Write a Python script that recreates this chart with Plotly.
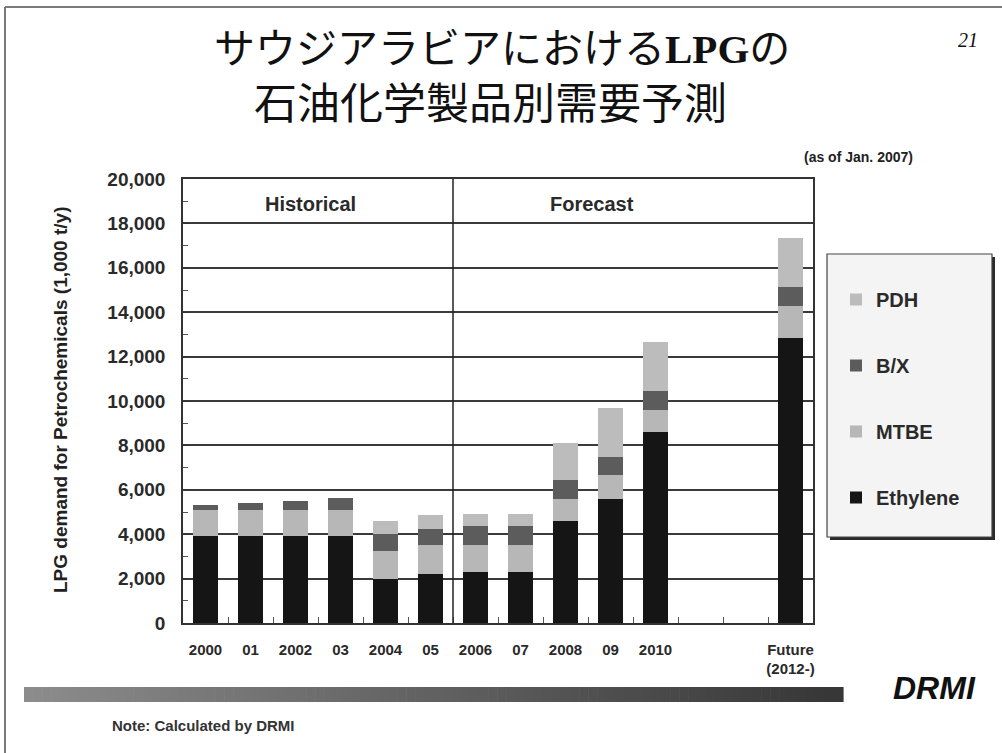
import plotly.graph_objects as go

# ---------------- data ----------------
categories = ["2000", "01", "2002", "03", "2004", "05", "2006", "07", "2008", "09", "2010", "gap1", "gap2", "Future"]
tick_labels = ["2000", "01", "2002", "03", "2004", "05", "2006", "07", "2008", "09", "2010", "", "", "Future<br>(2012-)"]
ethylene = [3900, 3900, 3900, 3900, 2000, 2200, 2300, 2300, 4600, 5600, 8600, None, None, 12850]
mtbe = [1200, 1200, 1200, 1200, 1250, 1300, 1200, 1200, 1000, 1050, 1000, None, None, 1420]
bx = [230, 300, 400, 550, 750, 750, 850, 850, 850, 820, 850, None, None, 850]
pdh = [0, 0, 0, 0, 600, 600, 570, 570, 1650, 2200, 2200, None, None, 2240]
series_names = ["Ethylene", "MTBE", "B/X", "PDH"]
series_colors = ["#151515", "#b7b7b7", "#5c5c5c", "#bcbcbc"]
legend_ranks = [4, 3, 2, 1]
y_ticks = [0, 2000, 4000, 6000, 8000, 10000, 12000, 14000, 16000, 18000, 20000]

# ---------------- layout helpers ----------------
W, H = 1002, 753
PL, PR, PT, PB = 183, 813, 179, 623  # plot area in pixels


def px(x):
    return (x - PL) / (PR - PL)


def py(y):
    return (PB - y) / (PB - PT)


FONT = "Liberation Sans, Arial, sans-serif"

fig = go.Figure()
for name, vals, col, rk in zip(series_names, [ethylene, mtbe, bx, pdh], series_colors, legend_ranks):
    fig.add_trace(go.Bar(
        x=categories, y=vals, name=name, legendgroup=name, legendrank=rk,
        marker=dict(color=col, line=dict(width=0)),
    ))

shapes = []
# slide frame (top and left lines)
shapes.append(dict(type="line", xref="paper", yref="paper", x0=px(5), x1=px(1010), y0=py(7), y1=py(7),
                   line=dict(color="#7a7a7a", width=2)))
shapes.append(dict(type="line", xref="paper", yref="paper", x0=px(5), x1=px(5), y0=py(7), y1=py(760),
                   line=dict(color="#7a7a7a", width=2)))
# divider Historical / Forecast
shapes.append(dict(type="line", xref="x", yref="y", x0=5.5, x1=5.5, y0=0, y1=20000,
                   line=dict(color="#222", width=1.5)))
# legend box shadow + box
shapes.append(dict(type="rect", xref="paper", yref="paper", x0=px(830), x1=px(995), y0=py(257), y1=py(540),
                   fillcolor="#2a2a2a", line=dict(width=0)))
shapes.append(dict(type="rect", xref="paper", yref="paper", x0=px(827), x1=px(992), y0=py(254), y1=py(537),
                   fillcolor="#f4f4f4", line=dict(color="#444", width=1.2)))
# gradient bar at bottom
N = 90
x_start, x_end = 24, 843
for i in range(N):
    t = i / (N - 1)
    c = int(140 - t * (140 - 55))
    x0 = x_start + (x_end - x_start) * i / N
    x1 = x_start + (x_end - x_start) * (i + 1) / N + 0.6
    shapes.append(dict(type="rect", xref="paper", yref="paper", x0=px(x0), x1=px(x1), y0=py(687), y1=py(702),
                       fillcolor=f"rgb({c},{c},{c})", line=dict(width=0)))

annotations = []
title_font = "Noto Sans CJK JP"
annotations.append(dict(
    xref="paper", yref="paper", x=px(502), y=py(45), xanchor="center", yanchor="middle", showarrow=False,
    text="サウジアラビアにおける<span style=\"font-family:'Liberation Serif', 'Times New Roman', serif\"><b>LPG</b></span>の",
    font=dict(family=title_font, size=41, color="#111")))
annotations.append(dict(
    xref="paper", yref="paper", x=px(490), y=py(100), xanchor="center", yanchor="middle", showarrow=False,
    text="石油化学製品別需要予測", font=dict(family=title_font, size=43, color="#111")))
annotations.append(dict(
    xref="paper", yref="paper", x=px(968), y=py(40), xanchor="center", yanchor="middle", showarrow=False,
    text="<i>21</i>", font=dict(family="Liberation Serif, Times New Roman, serif", size=20, color="#111")))
annotations.append(dict(
    xref="paper", yref="paper", x=px(858), y=py(157), xanchor="center", yanchor="middle", showarrow=False,
    text="<b>(as of Jan. 2007)</b>", font=dict(family=FONT, size=14, color="#222")))
annotations.append(dict(
    xref="paper", yref="paper", x=px(310), y=py(204), xanchor="center", yanchor="middle", showarrow=False,
    text="<b>Historical</b>", font=dict(family=FONT, size=20, color="#2a2a2a")))
annotations.append(dict(
    xref="paper", yref="paper", x=px(592), y=py(204), xanchor="center", yanchor="middle", showarrow=False,
    text="<b>Forecast</b>", font=dict(family=FONT, size=20, color="#2a2a2a")))
annotations.append(dict(
    xref="paper", yref="paper", x=px(60), y=py(400), xanchor="center", yanchor="middle", showarrow=False,
    textangle=-90, text="<b>LPG demand for Petrochemicals (1,000 t/y)</b>",
    font=dict(family=FONT, size=19, color="#222")))
annotations.append(dict(
    xref="paper", yref="paper", x=px(934), y=py(688), xanchor="center", yanchor="middle", showarrow=False,
    text="<b><i>DRMI</i></b>", font=dict(family=FONT, size=32, color="#111")))
annotations.append(dict(
    xref="paper", yref="paper", x=px(110), y=py(725), xanchor="left", yanchor="middle", showarrow=False,
    text="<b>Note: Calculated by DRMI</b>", font=dict(family=FONT, size=15, color="#333")))

fig.update_layout(
    width=W, height=H,
    margin=dict(l=PL, r=W - PR, t=PT, b=H - PB, autoexpand=False),
    paper_bgcolor="white", plot_bgcolor="white",
    barmode="stack", bargap=0.43,
    font=dict(family=FONT, color="#222"),
    showlegend=True,
    legend=dict(x=px(836), y=py(280), xanchor="left", yanchor="top",
                bgcolor="rgba(0,0,0,0)", borderwidth=0,
                traceorder="grouped", tracegroupgap=37,
                font=dict(family=FONT, size=20, color="#2a2a2a", weight="bold")),
    shapes=shapes, annotations=annotations,
    xaxis=dict(type="category", categoryorder="array", categoryarray=categories,
               tickmode="array", tickvals=categories, ticktext=tick_labels,
               tickfont=dict(family=FONT, size=15, color="#2a2a2a", weight="bold"), tickangle=0,
               showline=True, linecolor="#333", linewidth=1.5, mirror=True,
               ticks="inside", tickson="boundaries", ticklen=6, tickcolor="#555",
               showgrid=False, ticklabelstandoff=12, range=[-0.5, 13.5]),
    yaxis=dict(range=[0, 20000], tickvals=y_ticks, tickformat=",d",
               tickfont=dict(family=FONT, size=19, color="#2a2a2a", weight="bold"),
               showline=True, linecolor="#333", linewidth=1.5, mirror=True,
               ticks="inside", ticklen=7, tickcolor="#333",
               minor=dict(dtick=1000, ticks="inside", ticklen=5, tickcolor="#555", showgrid=False),
               showgrid=True, gridcolor="#3a3a3a", gridwidth=1.5, zeroline=False,
               ticklabelstandoff=12),
)

fig.write_html("out.html")
